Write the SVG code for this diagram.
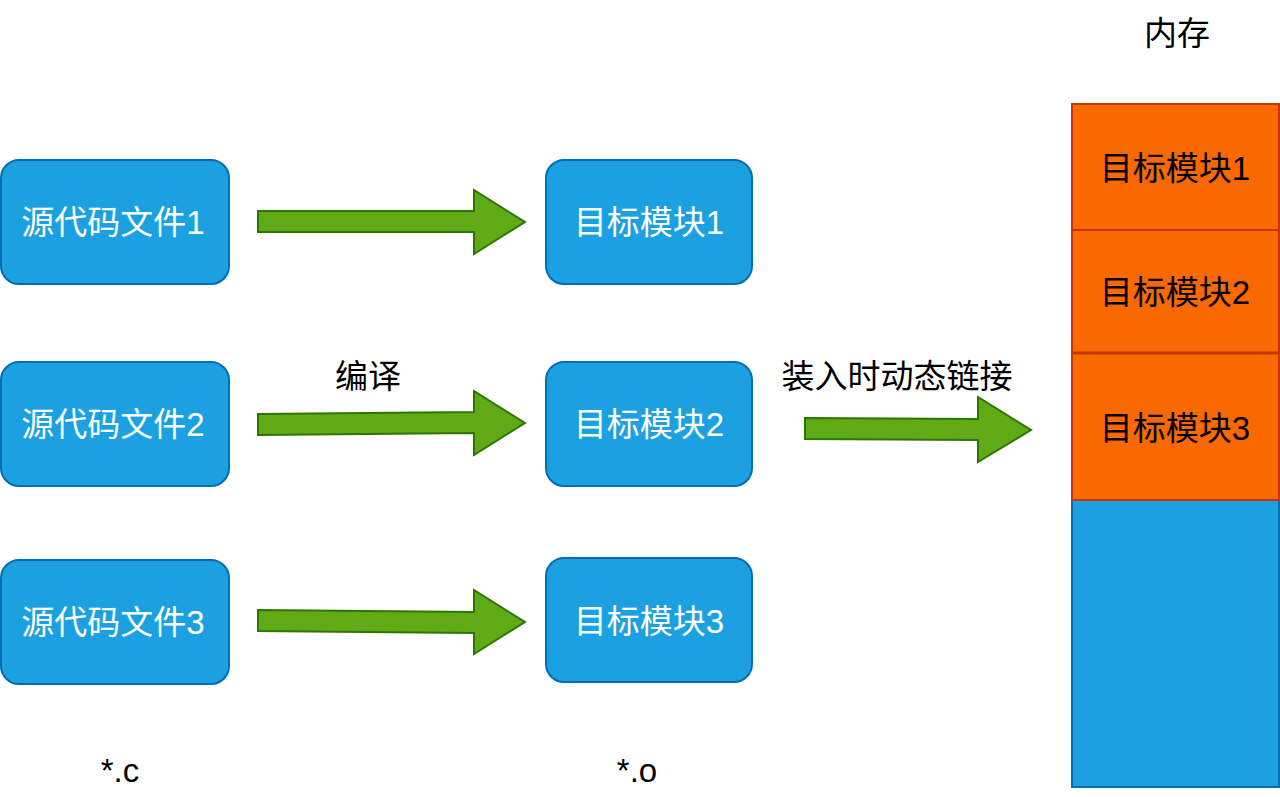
<svg xmlns="http://www.w3.org/2000/svg" width="1280" height="797" viewBox="0 0 1280 797">
<style>
.box{fill:#1ba1e2;stroke:#006eaf;stroke-width:2}
.mem{fill:#fa6800;stroke:#c73500;stroke-width:2}
.arr{fill:#60a917;stroke:#2d7600;stroke-width:2}
text{font-family:"Liberation Sans","Noto Sans CJK SC",sans-serif;font-size:33px;text-anchor:middle;dominant-baseline:central}
.w{fill:#ffffff}
.k{fill:#000000}
</style>
<rect width="1280" height="797" fill="#ffffff"/>
<g id="src1"><rect class="box" x="1" y="160" width="228" height="124" rx="18"/><text class="w" x="113" y="222">源代码文件1</text></g>
<g id="src2"><rect class="box" x="1" y="362" width="228" height="124" rx="18"/><text class="w" x="113" y="424">源代码文件2</text></g>
<g id="src3"><rect class="box" x="1" y="560" width="228" height="124" rx="18"/><text class="w" x="113" y="622">源代码文件3</text></g>
<g id="obj1"><rect class="box" x="546" y="160" width="206" height="124" rx="18"/><text class="w" x="649" y="222">目标模块1</text></g>
<g id="obj2"><rect class="box" x="546" y="362" width="206" height="124" rx="18"/><text class="w" x="649" y="424">目标模块2</text></g>
<g id="obj3"><rect class="box" x="546" y="558" width="206" height="124" rx="18"/><text class="w" x="649" y="621">目标模块3</text></g>
<g id="memory">
<rect class="box" x="1072" y="500" width="207" height="287"/>
<rect class="mem" x="1072" y="104" width="207" height="126"/>
<rect class="mem" x="1072" y="230" width="207" height="123"/>
<rect class="mem" x="1072" y="353" width="207" height="147"/>
<line x1="1072" y1="353" x2="1279" y2="353" stroke="#c73500" stroke-width="3"/>
<line x1="1072" y1="500" x2="1279" y2="500" stroke="#c73500" stroke-width="2"/>
<text class="k" x="1175" y="168">目标模块1</text>
<text class="k" x="1175" y="292">目标模块2</text>
<text class="k" x="1175" y="428">目标模块3</text>
</g>
<g id="connectors">
<polygon class="arr" points="258,211 474,211 474,190 525,222 474,254 474,232 258,232"/>
<polygon class="arr" points="258,414 474,412 474,391 525,423 474,455 474,433 258,435"/>
<polygon class="arr" points="258,610 474,612 474,590 525,622 474,654 474,633 258,631"/>
<polygon class="arr" points="805,418 978,419 978,397 1031,430 978,462 978,440 805,439"/>
</g>
<g id="labels">
<text class="k" x="1177" y="33">内存</text>
<text class="k" x="368" y="376">编译</text>
<text class="k" x="897" y="376">装入时动态链接</text>
<text class="k" x="120" y="770">*.c</text>
<text class="k" x="637" y="770">*.o</text>
</g>
</svg>
